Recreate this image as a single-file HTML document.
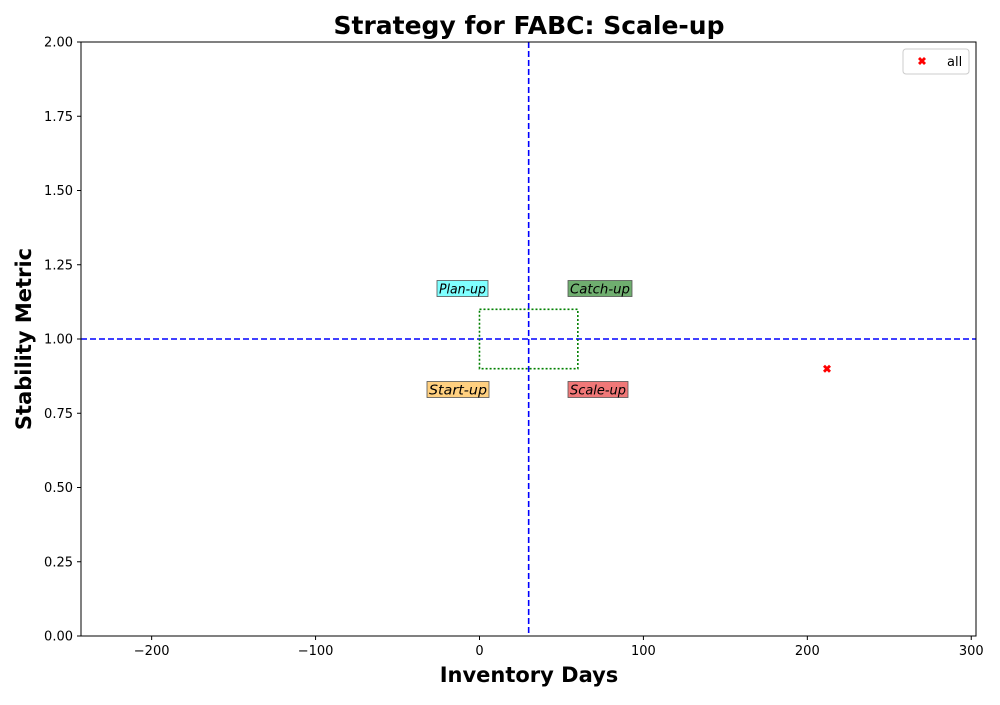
<!DOCTYPE html>
<html><head><meta charset="utf-8"><style>
body{margin:0;background:#fff;font-family:"Liberation Sans","DejaVu Sans",sans-serif}
svg text{font-family:"DejaVu Sans","Liberation Sans",sans-serif}
</style></head><body>
<svg id="chart" width="1000" height="700" xmlns="http://www.w3.org/2000/svg">
<rect width="1000" height="700" fill="#fff"/>
<g id="g"></g>
</svg>
<script>
const xTicks=[-200,-100,0,100,200,300];
const yTicks=[0,0.25,0.5,0.75,1.0,1.25,1.5,1.75,2.0];
const pointsX=[212];
const pointsY=[0.9];
const thresholdX=[30];
const thresholdY=[1.0];
const boxX=[0,60];
const boxY=[0.9,1.1];
const L=81,R=976,T=42,B=636,xmin=-243.1,xmax=302.9,ymin=0,ymax=2;
const sx=v=>L+(v-xmin)/(xmax-xmin)*(R-L);
const sy=v=>B-(v-ymin)/(ymax-ymin)*(B-T);
const g=document.getElementById('g');
const NS='http://www.w3.org/2000/svg';
function mk(tag,attrs,txt){const e=document.createElementNS(NS,tag);for(const k in attrs)e.setAttribute(k,attrs[k]);if(txt!==undefined)e.textContent=txt;g.appendChild(e);return e;}
let e;
e=mk('text',{x:529,y:34,'text-anchor':'middle','font-size':25,'font-weight':'bold'},'Strategy for FABC: Scale-up');


xTicks.forEach(t=>{const x=sx(t);
e=mk('line',{x1:x,x2:x,y1:B,y2:B+4,stroke:'#000'});


e=mk('text',{x:x,y:B+19,'text-anchor':'middle','font-size':13},t<0?'\u2212'+(-t):String(t));

});
yTicks.forEach(t=>{const y=sy(t);
e=mk('line',{x1:L-4,x2:L,y1:y,y2:y,stroke:'#000'});


e=mk('text',{x:L-8,y:y+4.5,'text-anchor':'end','font-size':13},t.toFixed(2));

});
e=mk('text',{x:529,y:682,'text-anchor':'middle','font-size':21,'font-weight':'bold'},'Inventory Days');


e=mk('text',{x:31,y:339,'text-anchor':'middle','font-size':21,'font-weight':'bold',transform:'rotate(-90 31 339)'},'Stability Metric');


thresholdX.forEach(v=>{e=mk('line',{x1:sx(v),x2:sx(v),y1:T,y2:B,stroke:'#0000ff','stroke-width':1.6,'stroke-dasharray':'6,3'});

});
thresholdY.forEach(v=>{e=mk('line',{x1:L,x2:R,y1:sy(v),y2:sy(v),stroke:'#0000ff','stroke-width':1.6,'stroke-dasharray':'6,3'});

});
e=mk('rect',{x:sx(boxX[0]),y:sy(boxY[1]),width:sx(boxX[1])-sx(boxX[0]),height:sy(boxY[0])-sy(boxY[1]),fill:'none',stroke:'#008000','stroke-width':1.6,'stroke-dasharray':'2,2'});


const labels=[['Plan-up',437,51,1.17,'#7fffff','plan-up-label'],['Catch-up',568,64,1.17,'#6fae6f','catch-up-label'],['Start-up',427,62,0.83,'#ffd080','start-up-label'],['Scale-up',568,60,0.83,'#f07878','scale-up-label']];
labels.forEach(l=>{const y=sy(l[3]);
e=mk('rect',{x:l[1],y:y-8,width:l[2],height:16,fill:l[4],stroke:'#555','stroke-width':0.8});


e=mk('text',{x:l[1]+l[2]/2,y:y+5,'font-size':13,'font-style':'italic','text-anchor':'middle',textLength:l[2]-4,lengthAdjust:'spacingAndGlyphs'},l[0]);

});
pointsX.forEach((v,i)=>{const x=sx(v),y=sy(pointsY[i]);
e=mk('path',{d:`M${x-4},${y-2} l2,-2 l2,2 l2,-2 l2,2 l-2,2 l2,2 l-2,2 l-2,-2 l-2,2 l-2,-2 l2,-2z`,fill:'#ff0000'});

});
e=mk('rect',{x:L,y:T,width:R-L,height:B-T,fill:'none',stroke:'#000','stroke-width':1});


e=mk('rect',{x:903,y:49,width:66,height:25,rx:3,fill:'#fff',stroke:'#ccc'});


e=mk('path',{d:'M918,59 l2,-2 l2,2 l2,-2 l2,2 l-2,2 l2,2 l-2,2 l-2,-2 l-2,2 l-2,-2 l2,-2z',fill:'#ff0000'});


e=mk('text',{x:947,y:66,'font-size':13},'all');


</script>
</body></html>
